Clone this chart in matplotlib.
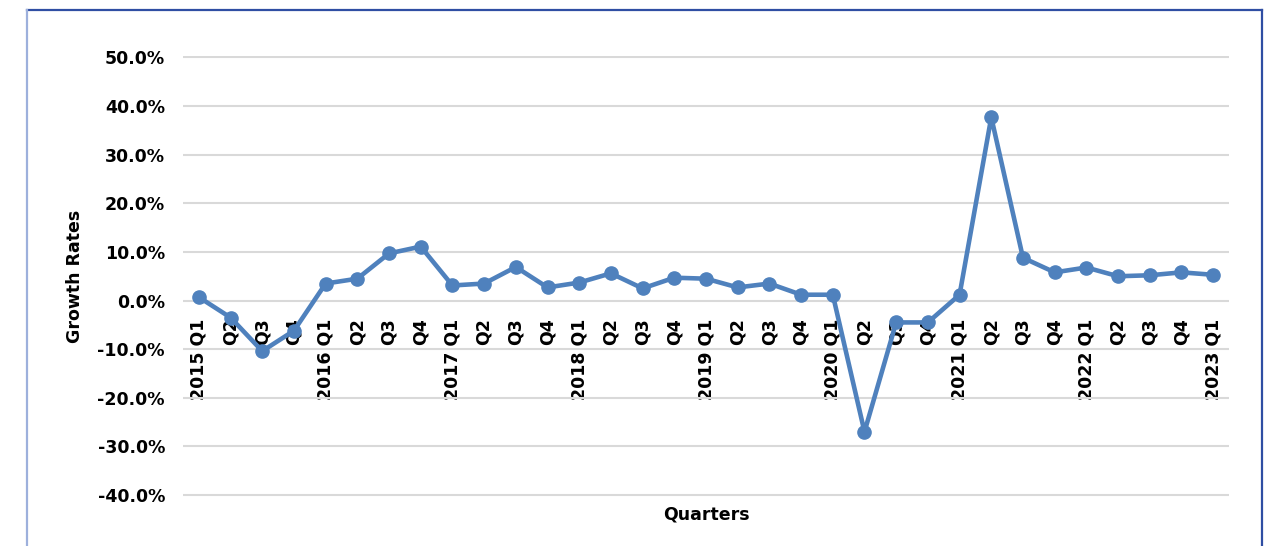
import matplotlib
matplotlib.use("Agg")
import matplotlib.pyplot as plt
from matplotlib.lines import Line2D

years = ["2015", "2016", "2017", "2018", "2019", "2020", "2021", "2022", "2023"]
quarters = ["Q1", "Q2", "Q3", "Q4"]
growth = [0.7, -3.5, -10.4, -6.2, 3.5, 4.5, 9.7, 11.1,
          3.1, 3.5, 6.9, 2.7, 3.7, 5.6, 2.5, 4.7,
          4.5, 2.7, 3.5, 1.2, 1.2, -27.0, -4.5, -4.5,
          1.2, 37.7, 8.8, 5.8, 6.8, 5.0, 5.2, 5.8, 5.3]

labels = []
for i in range(len(growth)):
    y = years[i // 4]
    q = quarters[i % 4]
    labels.append(f"{y} {q}" if q == "Q1" else q)

W, H = 1275, 546
ppu = (495 - 57.5) / 90.0
m = 0.4
top_px = 57.5 - m * ppu
bot_px = 495 + m * ppu
fig = plt.figure(figsize=(W / 100, H / 100), dpi=100)
ax = fig.add_axes([183 / W, 1 - bot_px / H, (1229 - 183) / W, (bot_px - top_px) / H])

x = list(range(len(growth)))
ax.plot(x, growth, color="#4F81BD", lw=3.3, marker="o", ms=9.5,
        solid_joinstyle="round", zorder=3, clip_on=False)

ax.set_xlim(-0.5, len(growth) - 0.5)
ax.set_ylim(-40 - m, 50 + m)
ax.set_yticks(range(-40, 51, 10))
ax.set_yticklabels([f"{v:.1f}%" for v in range(-40, 51, 10)],
                   fontsize=12.5, fontweight="bold")
ax.yaxis.grid(True, color="#D9D9D9", lw=1.5)
ax.set_axisbelow(True)
for s in ax.spines.values():
    s.set_visible(False)
ax.spines["bottom"].set_position(("data", 0))
ax.tick_params(axis="y", length=0, pad=13)
ax.set_xticks(x)
ax.set_xticklabels(labels, rotation=90, fontsize=12.5, fontweight="bold",
                   va="top", ha="center")
ax.tick_params(axis="x", length=0, pad=13)

ax.set_ylabel("Growth Rates", fontsize=12.5, fontweight="bold", labelpad=10)
fig.text(706 / W, 1 - 514 / H, "Quarters", fontsize=12.5, fontweight="bold",
         ha="center", va="center")

# frame around chart
fig.add_artist(Line2D([27 / W, 1262 / W], [1 - 10 / H, 1 - 10 / H],
                      transform=fig.transFigure, color="#2F4EA3", lw=1.6))
fig.add_artist(Line2D([1262 / W, 1262 / W], [1 - 10 / H, 0],
                      transform=fig.transFigure, color="#2F4EA3", lw=1.6))
fig.add_artist(Line2D([27 / W, 27 / W], [1 - 10 / H, 0],
                      transform=fig.transFigure, color="#9DB0DC", lw=1.6))

fig.savefig("out.png", dpi=100)
